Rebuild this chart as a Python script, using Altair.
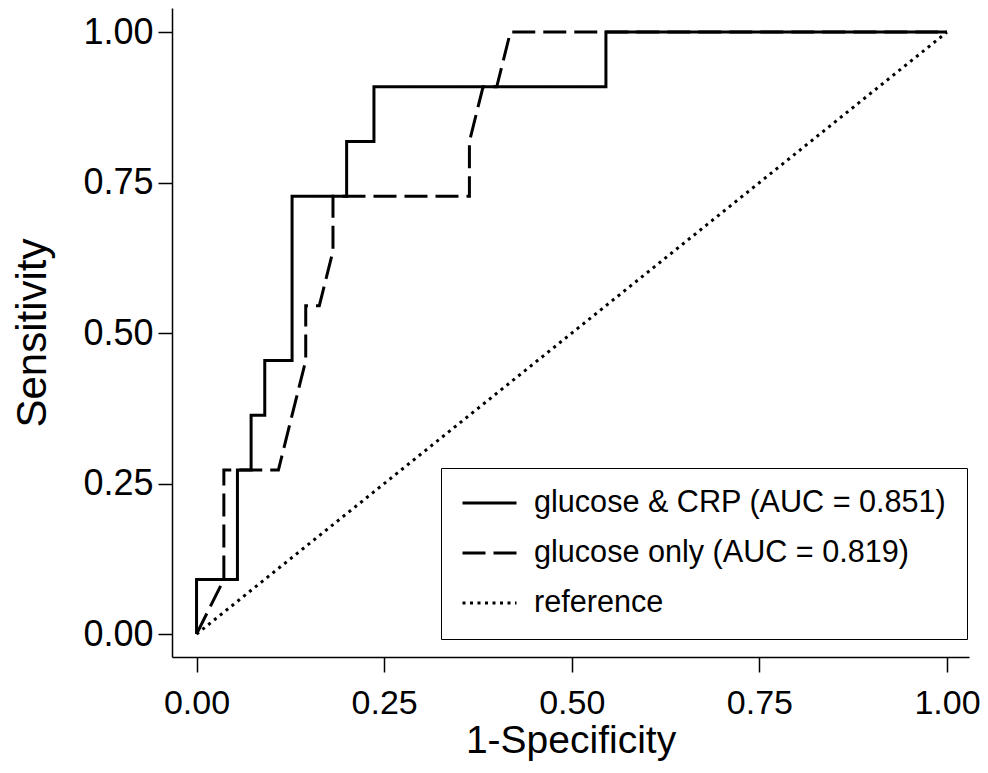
import altair as alt
import pandas as pd

# ROC curve: glucose & CRP (step curve)
fpr_combined = [0.0, 0.0, 0.0545, 0.0545, 0.0727, 0.0727, 0.0909, 0.0909, 0.1273, 0.1273,
                0.2, 0.2, 0.2364, 0.2364, 0.5455, 0.5455, 1.0]
tpr_combined = [0.0, 0.0909, 0.0909, 0.2727, 0.2727, 0.3636, 0.3636, 0.4545, 0.4545, 0.7273,
                0.7273, 0.8182, 0.8182, 0.9091, 0.9091, 1.0, 1.0]

# ROC curve: glucose only
fpr_glucose = [0.0, 0.0364, 0.0364, 0.1091, 0.1455, 0.1455, 0.1636, 0.1818, 0.1818, 0.3636,
               0.3636, 0.3818, 0.4, 0.4182, 1.0]
tpr_glucose = [0.0, 0.0909, 0.2727, 0.2727, 0.4545, 0.5455, 0.5455, 0.6364, 0.7273, 0.7273,
               0.8182, 0.9091, 0.9091, 1.0, 1.0]

# reference diagonal
fpr_reference = [0.0, 1.0]
tpr_reference = [0.0, 1.0]

series_labels = ["glucose & CRP (AUC = 0.851)", "glucose only (AUC = 0.819)", "reference"]
tick_values = [0.0, 0.25, 0.5, 0.75, 1.0]

rows = []
for label, xs, ys in zip(series_labels,
                         [fpr_combined, fpr_glucose, fpr_reference],
                         [tpr_combined, tpr_glucose, tpr_reference]):
    for i, (xv, yv) in enumerate(zip(xs, ys)):
        rows.append({"series": label, "idx": i, "fpr": xv, "tpr": yv})
df = pd.DataFrame(rows)

FONT = "Liberation Sans"

chart = alt.Chart(df).mark_line(color="black", strokeWidth=3, strokeJoin="miter").encode(
    x=alt.X("fpr:Q",
            scale=alt.Scale(domain=[-0.0327, 1.0293], nice=False, zero=False),
            axis=alt.Axis(values=tick_values, format=".2f", title="1-Specificity",
                          tickSize=15, labelPadding=14, titlePadding=1,
                          labelFontSize=34, titleFontSize=39)),
    y=alt.Y("tpr:Q",
            scale=alt.Scale(domain=[-0.038, 1.04], nice=False, zero=False),
            axis=alt.Axis(values=tick_values, format=".2f", title="Sensitivity",
                          tickSize=14, labelPadding=5, titlePadding=28,
                          labelFontSize=36, titleFontSize=42)),
    strokeDash=alt.StrokeDash(
        "series:N",
        scale=alt.Scale(domain=series_labels, range=[[1, 0], [23, 8], [3, 4.5]]),
        sort=series_labels,
        legend=alt.Legend(
            title=None, orient="none", legendX=269, legendY=460,
            strokeColor="black", fillColor="white", padding=20,
            symbolType="stroke", symbolSize=2916, symbolStrokeWidth=3,
            symbolStrokeColor="black", clipHeight=30, rowPadding=19,
            labelOffset=16, labelFontSize=30.6, labelFont=FONT, labelColor="black",
            labelLimit=1000),
    ),
    order="idx:Q",
).properties(
    width=797, height=649,
    autosize=alt.AutoSizeParams(type="none"),
    padding={"left": 164, "top": 0, "right": 11, "bottom": 104},
).configure_view(
    stroke=None
).configure_axis(
    grid=False, domainColor="black", domainWidth=1.5, tickColor="black", tickWidth=1.5,
    labelColor="black", titleColor="black", labelFont=FONT, titleFont=FONT,
    titleFontWeight="normal", labelFlush=False, labelOverlap=False
)

chart.save("out.html", embed_options={"renderer": "svg", "actions": False})
